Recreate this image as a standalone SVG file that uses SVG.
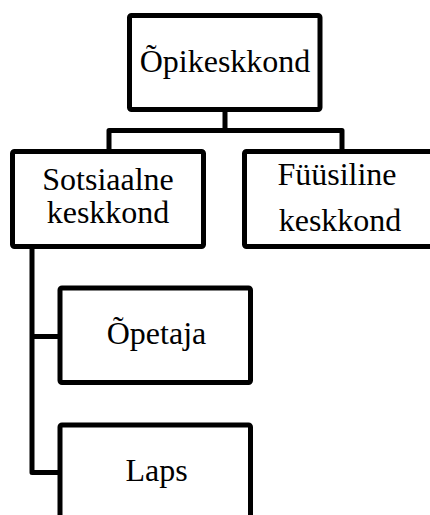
<svg xmlns="http://www.w3.org/2000/svg" width="430" height="515" viewBox="0 0 430 515">
<style>
.box{fill:#fff;stroke:#000;stroke-width:5;stroke-linejoin:round}
.con{fill:none;stroke:#000;stroke-width:5;stroke-linejoin:round;stroke-linecap:square}
text{font-family:"Liberation Serif","Times New Roman",serif;font-size:32px;fill:#000;text-anchor:middle}
</style>
<rect width="430" height="515" fill="#fff"/>
<g id="connectors">
<path class="con" d="M225,112 V130.5 M109,149 V130.5 H342 V149"/>
<path class="con" d="M32,249 V472.5 H58 M32,336.5 H58"/>
</g>
<g id="node-opikeskkond">
<rect class="box" x="129.5" y="15.5" width="190.5" height="94" rx="2"/>
<text x="225" y="72">Õpikeskkond</text>
</g>
<g id="node-sotsiaalne">
<rect class="box" x="12.5" y="151.5" width="191" height="95" rx="2"/>
<text x="108" y="190">Sotsiaalne</text>
<text x="108" y="223">keskkond</text>
</g>
<g id="node-fuusiline">
<rect class="box" x="244.5" y="151.5" width="200" height="95" rx="2"/>
<text x="337" y="185">Füüsiline</text>
<text x="340" y="231">keskkond</text>
</g>
<g id="node-opetaja">
<rect class="box" x="60" y="288" width="190.5" height="94.5" rx="2"/>
<text x="156.5" y="344">Õpetaja</text>
</g>
<g id="node-laps">
<rect class="box" x="60" y="425" width="190.5" height="120" rx="2"/>
<text x="156.5" y="481">Laps</text>
</g>
</svg>
